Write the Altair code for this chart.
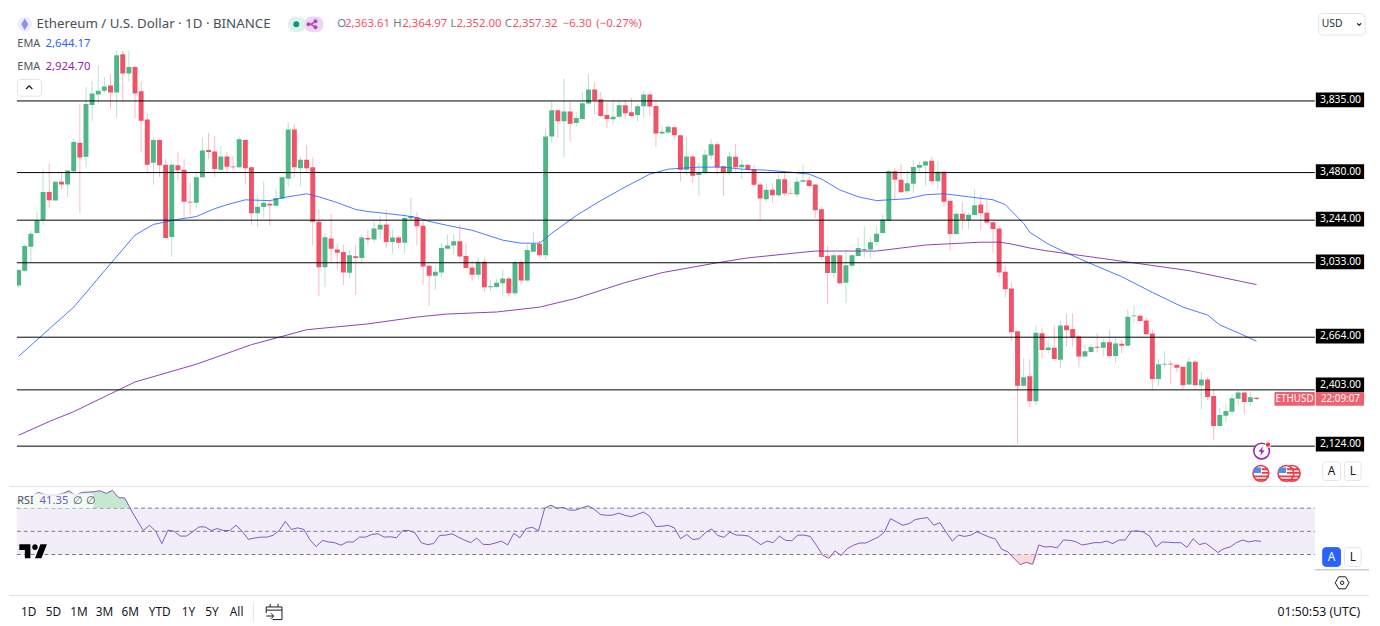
import altair as alt
import pandas as pd

opens = [2920,2994,3112,3181,3246,3384,3342,3434,3421,3486,
3628,3558,3815,3867,3886,3911,3877,4067,3971,4003,
3883,3743,3529,3642,3519,3161,3516,3494,3335,3330,
3457,3592,3584,3494,3560,3510,3506,3641,3506,3278,
3309,3325,3315,3351,3449,3694,3502,3543,3506,3236,
3011,3153,3099,3086,2984,3065,3057,3156,3148,3198,
3223,3136,3158,3132,3253,3258,3216,3018,2969,2985,
3103,3119,3140,3067,3010,2973,3038,2911,2913,2931,
2955,2882,3036,2945,3087,3127,3070,3659,3789,3734,
3783,3726,3745,3822,3892,3843,3765,3744,3757,3814,
3779,3765,3809,3867,3810,3674,3678,3705,3665,3494,
3560,3468,3478,3564,3620,3511,3478,3558,3506,3517,
3498,3421,3348,3395,3368,3447,3379,3371,3434,3442,
3421,3298,3067,2982,3070,2934,3018,3067,3096,3099,
3136,3180,3242,3486,3445,3388,3424,3504,3515,3538,
3437,3484,3340,3175,3276,3245,3270,3322,3281,3234,
3203,2988,2905,2694,2423,2471,2346,2684,2600,2612,
2552,2722,2705,2667,2568,2591,2617,2612,2639,2571,
2631,2622,2768,2770,2747,2682,2457,2529,2532,2527,
2517,2429,2542,2425,2454,2372,2224,2275,2294,2359,
2390,2343,2363.61]
highs = [3002,3124,3192,3286,3493,3525,3438,3481,3493,3644,
3820,3904,3933,4010,3953,3969,4083,4083,4083,4010,
3932,3774,3652,3645,3547,3535,3584,3547,3433,3473,
3652,3677,3660,3612,3584,3562,3657,3644,3509,3367,
3437,3346,3400,3459,3730,3720,3558,3616,3554,3299,
3180,3275,3128,3123,3096,3123,3172,3197,3236,3265,
3294,3197,3167,3281,3354,3286,3242,3021,3018,3132,
3173,3173,3222,3129,3043,3059,3059,2945,2953,2999,
2966,3043,3048,3124,3184,3140,3698,3831,3791,3945,
3831,3779,3880,3970,3926,3880,3823,3840,3835,3840,
3851,3823,3883,3877,3840,3710,3715,3715,3668,3655,
3562,3529,3594,3647,3633,3514,3584,3623,3543,3522,
3519,3433,3428,3428,3470,3477,3405,3457,3519,3460,
3423,3311,3116,3086,3072,3099,3075,3156,3213,3160,
3213,3270,3496,3501,3522,3489,3543,3538,3541,3559,
3538,3489,3340,3286,3330,3281,3396,3367,3343,3237,
3218,3018,2936,2696,2559,2554,2725,2709,2647,2722,
2747,2779,2781,2677,2628,2628,2685,2657,2698,2661,
2649,2801,2820,2775,2763,2703,2556,2595,2548,2530,
2517,2566,2552,2491,2467,2408,2312,2335,2381,2400,
2391,2394,2364.97]
lows = [2909,2986,3038,3177,3221,3303,3340,3397,3360,3481,
3281,3506,3737,3823,3872,3795,3755,3831,3932,3750,
3579,3477,3420,3457,3153,3064,3441,3254,3273,3303,
3454,3547,3457,3490,3481,3493,3502,3421,3221,3210,
3254,3218,3307,3346,3411,3457,3414,3481,3119,2868,
2912,3034,3001,2923,2958,2875,3026,3122,3132,3151,
3107,3080,3107,3078,3240,3120,2923,2819,2899,2961,
3101,3075,3051,3005,2942,2953,2888,2893,2911,2872,
2869,2869,2926,2937,3085,3059,3046,3628,3653,3555,
3633,3708,3737,3820,3771,3755,3701,3722,3750,3747,
3758,3734,3755,3763,3607,3666,3670,3645,3436,3464,
3429,3364,3473,3542,3468,3363,3468,3486,3449,3486,
3412,3246,3335,3330,3363,3363,3372,3356,3433,3408,
3254,3047,2828,2961,2925,2833,3005,3064,3059,3054,
3118,3177,3240,3348,3379,3370,3379,3481,3413,3429,
3395,3310,3091,3172,3201,3201,3265,3196,3226,3083,
2961,2862,2644,2136,2419,2315,2327,2562,2584,2547,
2511,2617,2617,2514,2560,2589,2589,2568,2560,2537,
2584,2620,2734,2739,2674,2405,2421,2508,2434,2490,
2405,2427,2425,2307,2353,2153,2222,2242,2280,2324,
2283,2320,2352.00]
closes = [2997,3116,3177,3242,3384,3343,3434,3421,3490,3631,
3555,3820,3872,3886,3907,3877,4062,3971,4003,3872,
3737,3519,3642,3516,3156,3519,3491,3335,3332,3457,
3589,3582,3498,3560,3509,3506,3645,3502,3278,3310,
3330,3317,3354,3457,3694,3506,3543,3502,3236,3011,
3159,3102,3083,2985,3070,3057,3158,3148,3203,3221,
3136,3158,3132,3255,3265,3214,3014,2969,2988,3106,
3119,3139,3064,3007,2973,3038,2911,2916,2934,2955,
2882,3035,2945,3096,3127,3070,3659,3789,3734,3783,
3722,3750,3823,3892,3838,3760,3745,3757,3814,3774,
3761,3809,3867,3807,3674,3682,3707,3665,3494,3560,
3464,3478,3568,3620,3506,3478,3560,3506,3519,3494,
3420,3351,3395,3368,3447,3376,3376,3434,3442,3413,
3293,3062,2982,3070,2932,3021,3070,3106,3101,3135,
3177,3248,3486,3445,3383,3427,3507,3518,3535,3437,
3484,3335,3175,3276,3247,3271,3318,3278,3232,3200,
2985,2902,2688,2423,2466,2346,2686,2600,2613,2556,
2722,2698,2662,2568,2595,2615,2612,2639,2571,2633,
2622,2766,2771,2744,2679,2457,2530,2532,2529,2512,
2426,2542,2426,2454,2368,2224,2278,2298,2361,2390,
2343,2366,2357.32]
rsi_vals = [74.3,77.7,80.0,80.5,83.6,81.9,81.3,81.3,82.8,85.0,80.8,83.6,83.9,84.2,85.0,82.8,85.3,79.1,78.8,68.6,
59.5,50.7,55.2,50.1,39.4,51.0,50.1,45.9,45.9,49.6,53.8,53.8,50.7,52.4,50.7,50.7,55.2,50.1,43.1,44.2,
45.0,45.0,46.5,50.7,58.6,51.6,53.0,51.6,42.5,36.8,42.2,40.8,40.2,38.0,40.8,40.8,45.0,45.0,47.3,47.9,
45.0,45.3,44.5,50.7,50.7,48.7,40.2,38.5,39.4,46.5,46.7,47.9,45.0,
42.5,40.2,44.2,38.8,38.5,39.9,41.6,38.2,48.2,44.5,52.4,53.5,50.4,70.0,72.6,70.0,70.6,68.3,68.3,70.3,
72.0,69.2,64.6,63.8,64.0,65.7,63.8,62.6,64.6,66.6,62.9,54.1,54.4,55.2,53.0,43.6,47.3,42.8,43.6,48.7,
52.1,46.5,44.8,49.3,46.7,46.7,45.9,42.2,38.5,41.6,40.2,45.9,42.2,41.9,46.7,46.7,45.6,38.0,29.4,26.6,
33.1,29.2,35.1,38.0,39.9,39.9,42.5,45.0,49.3,60.9,58.1,55.2,56.7,60.1,
61.2,61.8,55.2,57.5,49.3,41.6,46.7,45.6,46.7,49.6,47.3,45.0,43.3,34.5,32.3,26.6,21.2,23.2,21.5,38.2,
36.5,36.8,35.7,42.5,42.2,41.1,38.2,39.1,40.2,40.2,41.6,39.4,42.5,42.5,50.1,50.4,49.3,45.6,36.5,40.8,
40.5,40.2,40.2,36.2,43.6,38.5,39.9,36.0,31.7,35.1,36.5,40.2,42.5,40.8,41.9,41.35]

ema_fast_day = [1,6,10,16,20,23,27,30,33,35,38,42,45,48,50,53,56,58,61,64,66,68,71,75,80,83,86,88,92,96,100,104,107,112,116,119,123,127,130,132,135,138,141,143,146,149,152,156,160,162,165,166,169,172,176,181,186,191,195,197,200,203]
ema_fast = [2569,2705,2813,3028,3170,3223,3248,3262,3301,3321,3345,3341,3360,3375,3360,3331,3297,3287,3277,3267,3257,3238,3218,3194,3145,3130,3130,3179,3267,3341,3409,3472,3497,3507,3507,3497,3492,3482,3472,3448,3394,3360,3341,3345,3350,3370,3375,3360,3345,3321,3228,3184,3126,3082,3028,2964,2886,2813,2774,2725,2686,2644.17]
ema_slow_day = [1,6,10,20,30,39,48,58,66,71,79,86,92,100,106,115,120,128,131,141,149,158,161,163,166,169,176,184,192,203]
ema_slow = [2178,2246,2295,2442,2530,2627,2701,2730,2764,2779,2789,2813,2857,2935,2984,3033,3057,3082,3091,3091,3121,3135,3135,3126,3106,3091,3062,3028,2994,2924.70]

levels = [3835, 3480, 3244, 3033, 2664, 2403, 2124]
price_ticks = [2200,2400,2600,2800,3000,3200,3400,3600,3800,4000]
date_ticks = [7,24,38,52,68,80,99,115,129,143,160,171,191,206]
date_labels = ["Mar","18","Apr","15","May","13","Jun","17","Jul","15","Aug","12","Sep","16"]
ranges = ["1D","5D","1M","3M","6M","YTD","1Y","5Y","All"]

GREEN, RED = "#4fb688", "#f05268"
BLUE, PURPLE = "#2962ff", "#7b1fa2"
RSI = "#7e57c2"
FONT = "Noto Sans"
GRID = "#ecf1f6"
AXIS = "#b2b5be"
W, H1, H2 = 1317, 475, 84

days = list(range(1, len(opens) + 1))
df = pd.DataFrame({"day": days, "o": opens, "h": highs, "l": lows, "c": closes, "rsi": rsi_vals})
one = pd.DataFrame({"a": [0]})

x_scale = alt.Scale(domain=[1.526, 211.71], nice=False, zero=False)
y_scale = alt.Scale(domain=[1928.8, 4249.1], nice=False, zero=False)
r_scale = alt.Scale(domain=[17.2, 88.7], nice=False, zero=False)
up = alt.condition("datum.c >= datum.o", alt.value(GREEN), alt.value(RED))
label_map = "{" + ",".join(f"{d}:'{t}'" for d, t in zip(date_ticks, date_labels)) + "}"
month_test = "isNaN(parseFloat(" + label_map + "[datum.value]))"


def text(s, px, py, top, size=11, color="#50535e", align="left", weight="normal"):
    return alt.Chart(one).mark_text(font=FONT, fontSize=size, align=align, baseline="middle", fontWeight=weight, color=color).encode(
        x=alt.value(px - 8), y=alt.value(py - top), text=alt.value(s))


def box(x0, y0, x1, y1, top, fill="#ffffff", stroke="#e0e3eb", radius=3, opacity=1):
    kw = {"stroke": stroke} if stroke else {}
    return alt.Chart(one).mark_rect(fill=fill, cornerRadius=radius, opacity=opacity, **kw).encode(
        x=alt.value(x0 - 8), x2=alt.value(x1 - 8), y=alt.value(y0 - top), y2=alt.value(y1 - top))


def sym(shape, px, py, top, size, fill=None, stroke=None, sw=1):
    kw = {"filled": fill is not None}
    if fill:
        kw["fill"] = fill
    if stroke:
        kw["stroke"] = stroke
        kw["strokeWidth"] = sw
    return alt.Chart(one).mark_point(shape=shape, size=size, opacity=1, **kw).encode(
        x=alt.value(px - 8), y=alt.value(py - top))


def hline(py, top, color, x0=0, x1=1380):
    return alt.Chart(one).mark_rule(color=color, strokeWidth=1).encode(
        x=alt.value(x0 - 8), x2=alt.value(x1 - 8), y=alt.value(py - top))


def tags(vals, dy):
    d = pd.DataFrame({"price": vals})
    y = alt.Y("price:Q", scale=y_scale, axis=None)
    bg = alt.Chart(d).mark_rule(color="#000000", strokeWidth=15, yOffset=dy).encode(
        y=y, x=alt.value(1326 - 8), x2=alt.value(1375 - 8))
    tx = alt.Chart(d).mark_text(color="#ffffff", font=FONT, fontSize=10.5, align="center", baseline="middle", yOffset=dy).encode(
        y=y, x=alt.value(1351 - 8), text=alt.Text("price:Q", format=",.2f"))
    return [bg, tx]


# ---------- price pane
x_main = alt.X("day:Q", scale=x_scale, title=None,
               axis=alt.Axis(values=date_ticks, labels=False, ticks=False, domain=False, grid=True, gridColor=GRID))
y_main = alt.Y("h:Q", scale=y_scale, title=None,
               axis=alt.Axis(orient="right", values=price_ticks, format=",.2f", grid=True, gridColor=GRID, ticks=False,
                             domainColor=AXIS, domainWidth=2, labelPadding=7, labelColor="#50535e", labelFontSize=11, labelFont=FONT))
x_plain = alt.X("day:Q", scale=x_scale, axis=None)
wicks = alt.Chart(df).mark_rule(strokeWidth=1, opacity=0.4, clip=True).encode(x=x_main, y=y_main, y2="l:Q", color=up)
bodies = alt.Chart(df).mark_bar(size=5, clip=True).encode(
    x=x_plain, y=alt.Y("o:Q", scale=y_scale, axis=None), y2="c:Q", color=up)
fast = alt.Chart(pd.DataFrame({"day": ema_fast_day, "v": ema_fast})).mark_line(color=BLUE, strokeWidth=1, opacity=0.85, clip=True).encode(
    x=x_plain, y=alt.Y("v:Q", scale=y_scale, axis=None))
slow = alt.Chart(pd.DataFrame({"day": ema_slow_day, "v": ema_slow})).mark_line(color=PURPLE, strokeWidth=1, opacity=0.85, clip=True).encode(
    x=x_plain, y=alt.Y("v:Q", scale=y_scale, axis=None))
lev = alt.Chart(pd.DataFrame({"price": levels})).mark_rule(color="#000000", strokeWidth=1).encode(
    y=alt.Y("price:Q", scale=y_scale, axis=None), x=alt.value(0), x2=alt.value(W))

T = 8
main_layers = [wicks, bodies, fast, slow, lev]
main_layers += tags([3835, 3480, 3244, 3033, 2664], -1) + tags([2403], -5) + tags([2124], -2)
main_layers += [
    box(1284, 388, 1325, 402, T, fill="#f0616f", stroke=None, radius=1),
    box(1326, 388, 1375, 402, T, fill="#f0616f", stroke=None, radius=1),
    text("ETHUSD", 1304.5, 395, T, size=10, color="#ffffff", align="center"),
    text("22:09:07", 1351, 395, T, size=10, color="#ffffff", align="center"),
    sym("circle", 16, 15, T, 230, fill="#eeeef8"),
    sym("M0 -1L0.6 0L0 1L-0.6 0Z", 16, 15, T, 144, fill="#9090f0"),
    text("Ethereum / U.S. Dollar · 1D · BINANCE", 28, 15, T, size=13.5, color="#4a4e59"),
    box(283, 7, 301, 23, T, fill="#dff3ee", stroke=None, radius=7),
    box(300, 7, 319, 23, T, fill="#ecd6f0", stroke=None, radius=7),
    sym("circle", 291.5, 15, T, 36, fill="#089981"),
    sym("M0.7 -0.7L-0.6 0L0.7 0.7", 308.5, 15, T, 64, stroke="#ab47bc", sw=1.5),
    sym("circle", 304, 15, T, 16, fill="#ab47bc"),
    sym("circle", 311, 12, T, 16, fill="#ab47bc"),
    sym("circle", 311, 18, T, 16, fill="#ab47bc"),
]
for s, px, col in [("O", 333, "#787b86"), ("2,363.61", 341, RED), ("H", 390, "#787b86"), ("2,364.97", 399, RED),
                   ("L", 448, "#787b86"), ("2,352.00", 454, RED), ("C", 503, "#787b86"), ("2,357.32", 511, RED),
                   ("−6.30", 562, RED), ("(−0.27%)", 596, RED)]:
    main_layers.append(text(s, px, 15, T, size=11.5, color=col))
main_layers += [
    text("EMA", 8.5, 35, T, size=11, color="#50535e"),
    text("2,644.17", 37, 35, T, size=11.5, color=BLUE),
    text("EMA", 8.5, 58, T, size=11, color="#50535e"),
    text("2,924.70", 37, 58, T, size=11.5, color="#8e24aa"),
    box(8.5, 71, 33, 88, T),
    sym("M-0.8 0.4L0 -0.4L0.8 0.4", 20.5, 79, T, 64, stroke="#131722", sw=1.3),
    box(1329, 4, 1376, 26, T, radius=4),
    text("USD", 1332, 15, T, size=10.5, color="#2a2e39"),
    sym("M-0.8 -0.4L0 0.4L0.8 -0.4", 1370, 15, T, 25, stroke="#131722", sw=1.2),
    sym("circle", 1271, 448, T, 254, fill="#ffffff", stroke="#9c27b0", sw=1.6),
    sym("M0.2 -0.7L-0.45 0.1H-0.05L-0.2 0.7L0.45 -0.1H0.05Z", 1271, 448, T, 196, fill="#9c27b0"),
    sym("circle", 1277.5, 441.5, T, 30, fill="#f23645", stroke="#ffffff", sw=1),
]
flag_red = "M0.1 -0.6H0.75V-0.38H0.1ZM0.1 -0.18H0.95V0.04H0.1ZM-0.92 0.24H0.92V0.46H-0.92ZM-0.65 0.62H0.65V0.82H-0.65Z"
for cx in (1302, 1295.7, 1270.3):
    main_layers += [
        sym("circle", cx, 470.7, T, 254, fill="#ffffff", stroke="#f23645", sw=1.6),
        sym("M-0.8 -0.7H0V-0.05H-0.95Z", cx, 470.7, T, 300, fill="#4a90e8"),
        sym(flag_red, cx, 470.7, T, 300, fill="#f23645"),
    ]
main_layers += [
    box(1333, 459, 1351, 478, T),
    text("A", 1342, 468.5, T, size=12, color="#131722", align="center"),
    box(1355, 459, 1372, 478, T),
    text("L", 1363.5, 468.5, T, size=12, color="#131722", align="center"),
]
main = alt.layer(*main_layers).properties(width=W, height=H1)

# ---------- RSI pane
T2 = 483
label_expr = label_map + "[datum.value]"
x_rsi = alt.X("day:Q", scale=x_scale, title=None,
              axis=alt.Axis(values=date_ticks, labelExpr=label_expr, ticks=False, domainColor=AXIS, domainWidth=2,
                            grid=True, gridColor=GRID, labelPadding=4, labelFont=FONT, labelFontSize=11, labelAngle=0,
                            labelColor={"condition": {"test": month_test, "value": "#50535e"}, "value": "#787b86"},
                            labelFontWeight={"condition": {"test": month_test, "value": "bold"}, "value": "normal"}))
y_rsi = alt.Y("rsi:Q", scale=r_scale, title=None,
              axis=alt.Axis(orient="right", values=[25, 50, 75], labelExpr="datum.value == 25 ? '' : format(datum.value, '.2f')",
                            grid=True, gridColor=GRID, ticks=False, domainColor=AXIS, domainWidth=2, labelPadding=7,
                            labelColor="#50535e", labelFontSize=11, labelFont=FONT))
y_plain = alt.Y("v:Q", scale=r_scale, axis=None)
band = alt.Chart(pd.DataFrame({"v": [70], "w": [30]})).mark_rect(color=RSI, opacity=0.1).encode(
    y=y_plain, y2="w:Q", x=alt.value(0), x2=alt.value(W))
dashes = alt.Chart(pd.DataFrame({"v": [70, 50, 30]})).mark_rule(color="#787b86", strokeWidth=1, strokeDash=[4, 3]).encode(
    y=y_plain, x=alt.value(0), x2=alt.value(W))
over = alt.Chart(df).transform_calculate(v="max(datum.rsi, 70)", w="70").mark_area(color="#b7e3c4", opacity=0.8, clip=True).encode(
    x=x_plain, y=y_plain, y2="w:Q")
under = alt.Chart(df).transform_calculate(v="min(datum.rsi, 30)", w="30").mark_area(color="#f9cfd0", opacity=0.8, clip=True).encode(
    x=x_plain, y=y_plain, y2="w:Q")
rsi_line = alt.Chart(df).mark_line(color=RSI, strokeWidth=1, clip=True).encode(x=x_rsi, y=y_rsi)

TV = ("M-0.2 -0.5H-1V-0.1H-0.6V0.5H-0.2ZM0.6 0.5H0.133L0.533 -0.5H1Z"
      "M0.333 -0.3A0.2 0.2 0 1 0 -0.067 -0.3A0.2 0.2 0 1 0 0.333 -0.3Z")
rsi_layers = [band, dashes, over, under, rsi_line,
              hline(483, T2, "#e0e3eb"), hline(567.5, T2, AXIS, 1325), hline(593.5, T2, "#e0e3eb"),
              hline(483, T2, "#e0e3eb", 8, 1325),
              box(8, 490, 86, 505, T2, stroke=None, opacity=0.75),
              text("RSI", 8.5, 497.5, T2, size=11, color="#50535e"),
              text("41.35", 31, 497.5, T2, size=11.5, color=RSI),
              text("∅", 65, 497.5, T2, size=11, color="#50535e"),
              text("∅", 78, 497.5, T2, size=11, color="#50535e"),
              sym(TV, 24.5, 548.7, T2, 784, fill="#000000"),
              box(1333, 545, 1351, 564, T2, fill="#2962ff", stroke="#2962ff"),
              text("A", 1342, 554.5, T2, size=12, color="#ffffff", align="center"),
              box(1355, 545, 1372, 564, T2),
              text("L", 1363.5, 554.5, T2, size=12, color="#131722", align="center"),
              sym("M-1 0L-0.5 -0.87H0.5L1 0L0.5 0.87H-0.5Z", 1352.7, 580.7, T2, 196, stroke="#131722", sw=1),
              sym("circle", 1352.7, 580.7, T2, 12, stroke="#131722", sw=1, fill="#ffffff"),
              hline(601, T2, "#ffffff", 0, 0.1),
              alt.Chart(one).mark_rule(color="#e0e3eb").encode(x=alt.value(248 - 8), y=alt.value(601 - T2), y2=alt.value(620 - T2)),
              sym("M-1 -0.6H1V1H-0.2M-1 -0.6V0.2M-1 -0.2H1M-0.5 -1V-0.6M0.5 -1V-0.6M-1 0.55H-0.1M-0.4 0.2L-0.05 0.55L-0.4 0.9",
                  269, 610, T2, 256, stroke="#131722", sw=1),
              text("01:50:53 (UTC)", 1371, 610.5, T2, size=12.5, color="#131722", align="right")]
for s, cx in zip(ranges, [20, 45, 71, 97, 123, 153, 182, 206, 231]):
    rsi_layers.append(text(s, cx, 610.5, T2, size=12, color="#131722", align="center"))
rsi_pane = alt.layer(*rsi_layers).properties(width=W, height=H2)

chart = alt.vconcat(main, rsi_pane, spacing=0, padding=0).configure_view(stroke=None).configure_text(font=FONT)
chart.save("out.html", embed_options={"renderer": "svg", "actions": False})
